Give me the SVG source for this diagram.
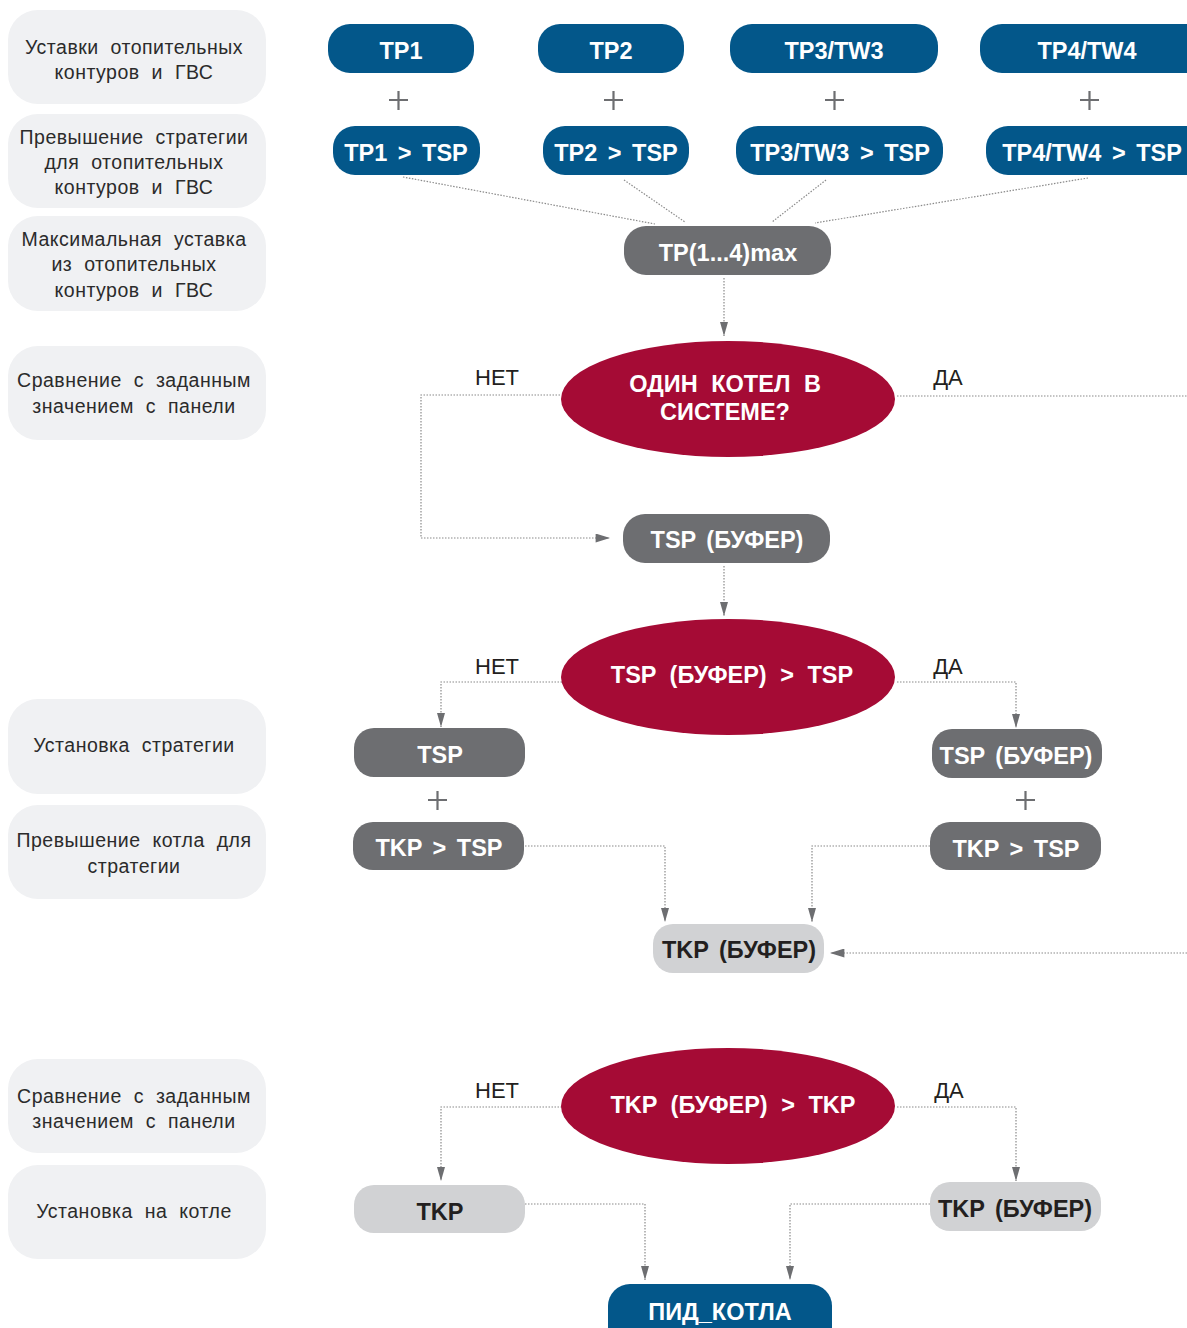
<svg xmlns="http://www.w3.org/2000/svg" width="1187" height="1328" viewBox="0 0 1187 1328">
<style>
.lbl rect{fill:#f0f1f3}
.lbl text{font-family:"Liberation Sans",Arial,sans-serif;font-size:19.5px;fill:#2b2b2b;text-anchor:middle;word-spacing:6px;letter-spacing:0.5px}
.blue rect{fill:#03578a}
.dark rect{fill:#6d6e71}
.light rect{fill:#d1d2d4}
.ell ellipse{fill:#a50b35}
.nt{font-family:"Liberation Sans",Arial,sans-serif;font-weight:bold;font-size:23.5px;fill:#fff;text-anchor:middle;word-spacing:4px}
.ell .nt{word-spacing:7px}
.light .nt{fill:#231f20}
.plus{stroke:#6d6e71;stroke-width:2.2}
.yn{font-family:"Liberation Sans",Arial,sans-serif;font-size:22px;fill:#231f20;text-anchor:middle}
.con path{fill:none;stroke:#8a8a8a;stroke-width:1.2;stroke-dasharray:1.5 1.5}
</style>
<defs>
<marker id="ah" viewBox="0 0 8 14" refX="4" refY="14" markerWidth="8" markerHeight="14" markerUnits="userSpaceOnUse" orient="0">
<path d="M0,0 L8,0 L4,14 z" fill="#6d6e71"/>
</marker>
<marker id="ahl" viewBox="0 0 16 10" refX="16" refY="5" markerWidth="16" markerHeight="9" markerUnits="userSpaceOnUse" orient="auto">
<path d="M0,0 L16,5 L0,10 z" fill="#6d6e71"/>
</marker>
</defs>

<g id="labels">
<g id="lbl1" class="lbl"><rect x="8" y="10" width="258" height="94" rx="30"/><text x="134" y="54">Уставки отопительных</text><text x="134" y="79">контуров и ГВС</text></g>
<g id="lbl2" class="lbl"><rect x="8" y="114" width="258" height="94" rx="30"/><text x="134" y="144">Превышение стратегии</text><text x="134" y="169">для отопительных</text><text x="134" y="194">контуров и ГВС</text></g>
<g id="lbl3" class="lbl"><rect x="8" y="216" width="258" height="95" rx="30"/><text x="134" y="246">Максимальная уставка</text><text x="134" y="271">из отопительных</text><text x="134" y="297">контуров и ГВС</text></g>
<g id="lbl4" class="lbl"><rect x="8" y="346" width="258" height="94" rx="30"/><text x="134" y="387">Сравнение с заданным</text><text x="134" y="413">значением с панели</text></g>
<g id="lbl5" class="lbl"><rect x="8" y="699" width="258" height="95" rx="30"/><text x="134" y="752">Установка стратегии</text></g>
<g id="lbl6" class="lbl"><rect x="8" y="805" width="258" height="94" rx="30"/><text x="134" y="847">Превышение котла для</text><text x="134" y="873">стратегии</text></g>
<g id="lbl7" class="lbl"><rect x="8" y="1059" width="258" height="94" rx="30"/><text x="134" y="1103">Сравнение с заданным</text><text x="134" y="1128">значением с панели</text></g>
<g id="lbl8" class="lbl"><rect x="8" y="1165" width="258" height="94" rx="30"/><text x="134" y="1218">Установка на котле</text></g>
</g>

<g id="connectors" class="con">
<path d="M403,177 L655,224"/>
<path d="M624,180 L685,222"/>
<path d="M826,180 L772,222"/>
<path d="M1088,178 L815,223"/>
<path d="M724,278 L724,336" marker-end="url(#ah)"/>
<path d="M560,395 L421,395 L421,538 L610,538" marker-end="url(#ahl)"/>
<path d="M897,396 L1187,396"/>
<path d="M724,566 L724,616" marker-end="url(#ah)"/>
<path d="M562,682 L441,682 L441,727" marker-end="url(#ah)"/>
<path d="M897,682 L1016,682 L1016,728" marker-end="url(#ah)"/>
<path d="M525,846 L665,846 L665,922" marker-end="url(#ah)"/>
<path d="M930,846 L812,846 L812,922" marker-end="url(#ah)"/>
<path d="M1187,953 L830,953" marker-end="url(#ahl)"/>
<path d="M562,1107 L441,1107 L441,1181" marker-end="url(#ah)"/>
<path d="M897,1107 L1016,1107 L1016,1181" marker-end="url(#ah)"/>
<path d="M525,1204 L645,1204 L645,1280" marker-end="url(#ah)"/>
<path d="M930,1204 L790,1204 L790,1280" marker-end="url(#ah)"/>
</g>

<g id="plus">
<path class="plus" d="M389,100 h19 M398.5,91 v19"/>
<path class="plus" d="M604,100 h19 M613.5,91 v19"/>
<path class="plus" d="M825,100 h19 M834.5,91 v19"/>
<path class="plus" d="M1080,100 h19 M1089.5,91 v19"/>
<path class="plus" d="M428,800 h19 M437.5,791 v19"/>
<path class="plus" d="M1016,800 h19 M1025.5,791 v19"/>
</g>

<g id="tp1" class="blue"><rect x="328" y="24" width="146" height="49" rx="22"/><text class="nt" x="401" y="59">TP1</text></g>
<g id="tp2" class="blue"><rect x="538" y="24" width="146" height="49" rx="22"/><text class="nt" x="611" y="59">TP2</text></g>
<g id="tp3" class="blue"><rect x="730" y="24" width="208" height="49" rx="22"/><text class="nt" x="834" y="59">TP3/TW3</text></g>
<g id="tp4" class="blue"><rect x="980" y="24" width="230" height="49" rx="22"/><text class="nt" x="1087" y="59">TP4/TW4</text></g>
<g id="tp1tsp" class="blue"><rect x="333" y="126" width="147" height="49" rx="22"/><text class="nt" x="406" y="161">TP1 &gt; TSP</text></g>
<g id="tp2tsp" class="blue"><rect x="543" y="126" width="146" height="49" rx="22"/><text class="nt" x="616" y="161">TP2 &gt; TSP</text></g>
<g id="tp3tsp" class="blue"><rect x="736" y="126" width="207" height="49" rx="22"/><text class="nt" x="840" y="161">TP3/TW3 &gt; TSP</text></g>
<g id="tp4tsp" class="blue"><rect x="986" y="126" width="230" height="49" rx="22"/><text class="nt" x="1092" y="161">TP4/TW4 &gt; TSP</text></g>

<g id="tpmax" class="dark"><rect x="624" y="226" width="207" height="49" rx="22"/><text class="nt" x="728" y="261">TP(1...4)max</text></g>

<g id="dec1" class="ell"><ellipse cx="728" cy="399" rx="167" ry="58"/><text class="nt" x="725" y="392">ОДИН КОТЕЛ В</text><text class="nt" x="725" y="420">СИСТЕМЕ?</text></g>
<text class="yn" x="497" y="385">НЕТ</text>
<text class="yn" x="948" y="385">ДА</text>

<g id="tspbuf" class="dark"><rect x="623" y="514" width="207" height="49" rx="22"/><text class="nt" x="727" y="548">TSP (БУФЕР)</text></g>

<g id="dec2" class="ell"><ellipse cx="728" cy="677" rx="167" ry="58"/><text class="nt" x="732" y="683">TSP (БУФЕР) &gt; TSP</text></g>
<text class="yn" x="497" y="674">НЕТ</text>
<text class="yn" x="948" y="674">ДА</text>

<g id="tsp" class="dark"><rect x="354" y="728" width="171" height="49" rx="20"/><text class="nt" x="440" y="763">TSP</text></g>
<g id="tspbuf2" class="dark"><rect x="932" y="729" width="170" height="49" rx="20"/><text class="nt" x="1016" y="764">TSP (БУФЕР)</text></g>
<g id="tkptsp1" class="dark"><rect x="353" y="822" width="171" height="48" rx="20"/><text class="nt" x="439" y="856">TKP &gt; TSP</text></g>
<g id="tkptsp2" class="dark"><rect x="930" y="822" width="171" height="48" rx="20"/><text class="nt" x="1016" y="857">TKP &gt; TSP</text></g>

<g id="tkpbuf" class="light"><rect x="653" y="924" width="171" height="49" rx="20"/><text class="nt" x="739" y="958">TKP (БУФЕР)</text></g>

<g id="dec3" class="ell"><ellipse cx="728" cy="1106" rx="167" ry="58"/><text class="nt" x="733" y="1113">TKP (БУФЕР) &gt; TKP</text></g>
<text class="yn" x="497" y="1098">НЕТ</text>
<text class="yn" x="949" y="1098">ДА</text>

<g id="tkp" class="light"><rect x="354" y="1185" width="171" height="48" rx="20"/><text class="nt" x="440" y="1220">TKP</text></g>
<g id="tkpbuf2" class="light"><rect x="930" y="1182" width="171" height="49" rx="20"/><text class="nt" x="1015" y="1217">TKP (БУФЕР)</text></g>

<g id="pid" class="blue"><rect x="608" y="1284" width="224" height="70" rx="22"/><text class="nt" x="720" y="1320">ПИД_КОТЛА</text></g>
</svg>
